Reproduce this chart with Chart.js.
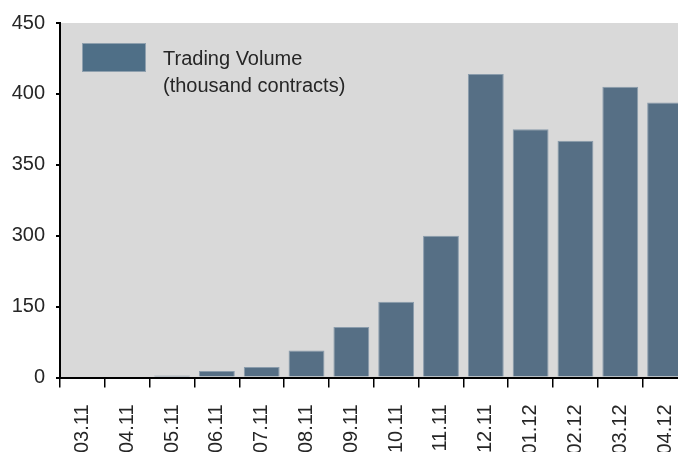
<!DOCTYPE html>
<html>
<head>
<meta charset="utf-8">
<script src="https://cdn.jsdelivr.net/npm/chart.js@4"></script>
<style>
  html, body { margin: 0; padding: 0; background: #fff; overflow: hidden; }
  #wrap { width: 700px; height: 452px; }
</style>
</head>
<body>
<div id="wrap"><canvas id="myChart"></canvas></div>
<script>
const months = ["03.11", "04.11", "05.11", "06.11", "07.11", "08.11", "09.11",
  "10.11", "11.11", "12.11", "01.12", "02.12", "03.12", "04.12"];
// thousand contracts
const volume = [0, 0, 4, 14, 22, 57, 107, 160, 300, 414, 375, 367, 405, 394];
// the axis is broken: equal spacing between these labels
const yTicks = [0, 150, 300, 350, 400, 450];
const legendLines = ["Trading Volume", "(thousand contracts)"];

// value -> position on the (uneven) axis
function toPos(v) {
  for (let i = 0; i < yTicks.length - 1; i++) {
    if (v <= yTicks[i + 1]) {
      return i + (v - yTicks[i]) / (yTicks[i + 1] - yTicks[i]);
    }
  }
  return yTicks.length - 1;
}

const FONT = "'Liberation Sans', Arial, sans-serif";

const plotBg = {
  id: "plotBg",
  beforeDraw: (chart) => {
    const { ctx, chartArea } = chart;
    ctx.save();
    ctx.fillStyle = "#d9d9d9";
    ctx.fillRect(chartArea.left, chartArea.top,
      chartArea.right - chartArea.left, chartArea.bottom - chartArea.top);
    ctx.restore();
  },
};

const boxLegend = {
  id: "boxLegend",
  afterDatasetsDraw: (chart) => {
    const { ctx } = chart;
    ctx.save();
    ctx.fillStyle = "#4f6f87";
    ctx.fillRect(82, 43, 64, 29);
    ctx.strokeStyle = "#8fa0ae";
    ctx.lineWidth = 1;
    ctx.strokeRect(82.5, 43.5, 63, 28);
    ctx.fillStyle = "#262626";
    ctx.font = "20px " + FONT;
    ctx.textBaseline = "alphabetic";
    legendLines.forEach((line, i) => {
      ctx.fillText(line, 163, 65 + i * 27);
    });
    ctx.restore();
  },
};

new Chart(document.getElementById("myChart"), {
  type: "bar",
  data: {
    labels: months,
    datasets: [
      {
        label: legendLines.join(" "),
        data: volume.map(toPos),
        backgroundColor: "#566f85",
        borderColor: "#8a9cac",
        borderWidth: 1,
        barPercentage: 0.8,
        categoryPercentage: 1,
      },
    ],
  },
  options: {
    responsive: true,
    maintainAspectRatio: false,
    animation: false,
    layout: { padding: { top: 22, right: 12.5, left: 0, bottom: 0 } },
    plugins: {
      legend: { display: false },
      tooltip: { enabled: false },
    },
    scales: {
      x: {
        grid: {
          drawOnChartArea: false,
          drawTicks: true,
          tickLength: 10,
          tickColor: "#000",
          lineWidth: 1.5,
        },
        border: { display: true, color: "#000", width: 2 },
        ticks: {
          color: "#262626",
          font: { family: FONT, size: 20 },
          minRotation: 90,
          maxRotation: 90,
          padding: 17,
          autoSkip: false,
        },
        afterFit: (scale) => {
          scale.height = 74.5;
          scale.paddingLeft = 0;
          scale.paddingRight = 0;
        },
      },
      y: {
        min: 0,
        max: yTicks.length - 1,
        grid: {
          drawOnChartArea: false,
          tickLength: 4,
          tickColor: "#000",
          lineWidth: 2,
        },
        border: { display: true, color: "#000", width: 2 },
        ticks: {
          stepSize: 1,
          color: "#262626",
          font: { family: FONT, size: 20 },
          padding: 11,
          callback: (v) => yTicks[v],
        },
        afterFit: (scale) => { scale.width = 60; },
      },
    },
  },
  plugins: [plotBg, boxLegend],
});
</script>
</body>
</html>
